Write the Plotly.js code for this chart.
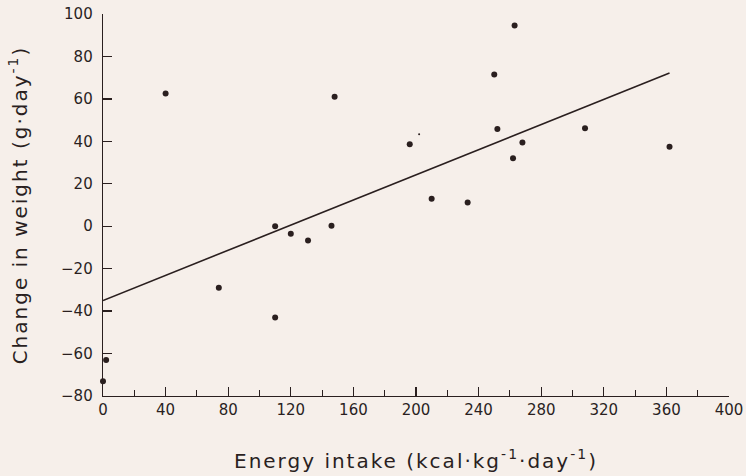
<!DOCTYPE html>
<html>
<head>
<meta charset="utf-8">
<script src="https://cdn.plot.ly/plotly-3.0.1.min.js"></script>
<style>
html,body{margin:0;padding:0;background:#f6efea;}
#chart{width:746px;height:476px;}
#chart text.xtitle, #chart text.ytitle{letter-spacing:2px;}
</style>
</head>
<body>
<div id="chart"></div>
<script>
// Energy intake (kcal/kg/day)
var energyIntake = [0, 2, 40, 74, 110, 110, 120, 131, 146, 148, 196, 210, 233, 250, 252, 262, 263, 268, 308, 362];
// Change in weight (g/day)
var weightChange = [-73, -63, 62.5, -29, -43, 0, -3.5, -6.7, 0.2, 61, 38.6, 12.9, 11.2, 71.5, 45.8, 32, 94.6, 39.4, 46.2, 37.5];
// faint speck in the original print
var speckX = [202];
var speckY = [43.3];
// regression line end points
var fitX = [0, 362];
var fitY = [-35, 72.2];
var xTicks = [0, 40, 80, 120, 160, 200, 240, 280, 320, 360, 400];
var yTicks = [-80, -60, -40, -20, 0, 20, 40, 60, 80, 100];

var ink = '#2a1f1f';
var font = 'DejaVu Sans, Verdana, sans-serif';

var traces = [
  {x: fitX, y: fitY, mode: 'lines', line: {color: ink, width: 1.6}, hoverinfo: 'skip', cliponaxis: false},
  {x: energyIntake, y: weightChange, mode: 'markers', marker: {color: ink, size: 6}, cliponaxis: false},
  {x: speckX, y: speckY, mode: 'markers', marker: {color: ink, size: 2}, cliponaxis: false}
];

var layout = {
  width: 746, height: 476,
  margin: {l: 103, r: 17, t: 14, b: 80},
  paper_bgcolor: '#f6efea',
  plot_bgcolor: '#f6efea',
  showlegend: false,
  font: {family: font, color: ink, size: 15},
  xaxis: {
    range: [0, 400], tickvals: xTicks, ticktext: xTicks.map(String),
    showgrid: false, zeroline: false, showline: true, linecolor: ink, linewidth: 1.3,
    ticks: 'inside', ticklen: 9, tickwidth: 1.3, tickcolor: ink,
    minor: {dtick: 20, ticks: 'inside', ticklen: 6, tickwidth: 1.1, tickcolor: ink},
    tickfont: {size: 15, family: font, color: ink},
    title: {text: 'Energy intake (kcal·kg<sup>-1</sup>·day<sup>-1</sup>)', font: {size: 20, family: font, color: ink}, standoff: 35}
  },
  yaxis: {
    range: [-80, 100], tickvals: yTicks, ticktext: yTicks.map(function(v){return v < 0 ? '\u2212' + Math.abs(v) : String(v);}),
    showgrid: false, zeroline: false, showline: true, linecolor: ink, linewidth: 1.3,
    ticks: 'inside', ticklen: 9, tickwidth: 1.3, tickcolor: ink,
    ticklabelstandoff: 6,
    tickfont: {size: 15, family: font, color: ink},
    title: {text: 'Change in weight (g·day<sup>-1</sup>)', font: {size: 20, family: font, color: ink}, standoff: 28}
  }
};

Plotly.newPlot('chart', traces, layout, {staticPlot: true, displayModeBar: false});
</script>
</body>
</html>
